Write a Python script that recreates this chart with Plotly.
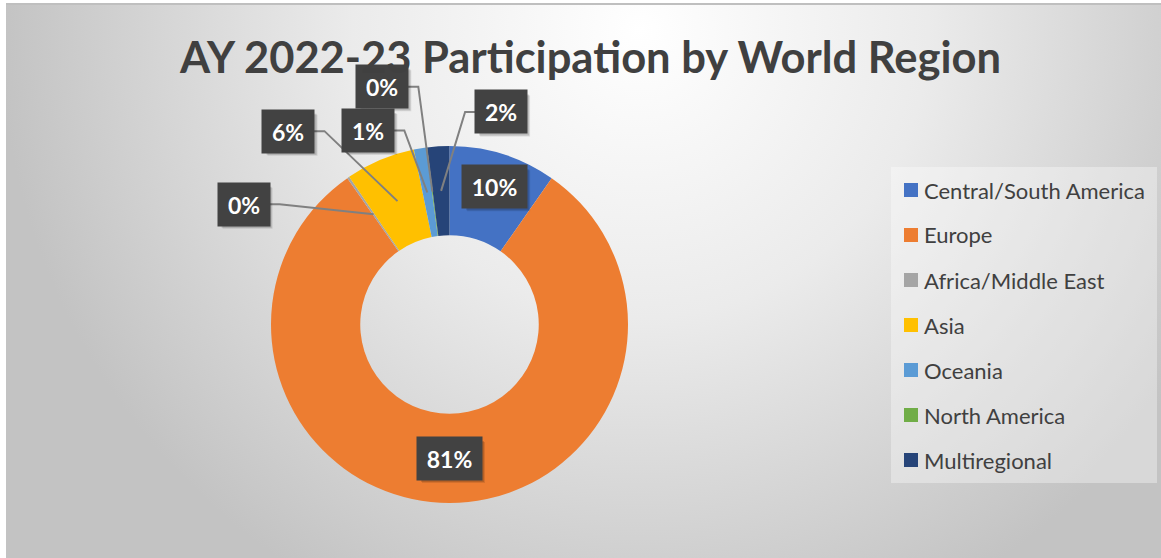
import base64
import math
import plotly.graph_objects as go

# ---------------- data ----------------
regions = ["Central/South America", "Europe", "Africa/Middle East", "Asia",
           "Oceania", "North America", "Multiregional"]
shares = [9.7, 80.6, 0.2, 6.3, 1.1, 0.1, 2.0]
colors = ["#4472C4", "#ED7D31", "#A5A5A5", "#FFC000", "#5B9BD5", "#70AD47", "#264478"]
title_text = "AY 2022-23 Participation by World Region"

# ---------------- layout constants (pixels) ----------------
W, H = 1161, 558
CX, CY, R = 449.5, 324.5, 178.5
HOLE = 0.5
LABEL_R = 0.75  # fraction of outer radius where labels point / sit
# (dx, dy) pixel offset of each label box from its anchor; inside = no leader line
label_offsets = [(5, -10), (0, 0), (-130, -10), (-109, -70), (-59, -62), (-50, -105), (60, -79)]
label_inside = [True, True, False, False, False, False, False]

FONT = "Lato"
DARK = "#404040"


def px(x):
    return x / W


def py(y):
    return 1 - y / H


# background gradient as an SVG image
bg_x0, bg_y0 = 6, 5
bw, bh = W - bg_x0, H - bg_y0
svg = (
    f'<svg xmlns="http://www.w3.org/2000/svg" width="{bw}" height="{bh}" viewBox="0 0 {bw} {bh}">'
    f'<defs><radialGradient id="g" gradientUnits="userSpaceOnUse" cx="{640 - bg_x0}" cy="{30 - bg_y0}" r="640">'
    '<stop offset="0" stop-color="#ffffff"/>'
    '<stop offset="0.45" stop-color="#ebebeb"/>'
    '<stop offset="1" stop-color="#c3c3c3"/>'
    '</radialGradient></defs>'
    f'<rect x="0" y="0" width="{bw}" height="{bh}" fill="url(#g)"/></svg>'
)
svg_uri = "data:image/svg+xml;base64," + base64.b64encode(svg.encode()).decode()

fig = go.Figure()
fig.add_trace(go.Pie(
    labels=regions,
    values=shares,
    marker=dict(colors=colors, line=dict(width=0)),
    hole=HOLE,
    sort=False,
    direction="clockwise",
    rotation=0,
    textinfo="none",
    showlegend=False,
    domain=dict(x=[px(CX - R), px(CX + R)], y=[py(CY + R), py(CY - R)]),
))

shapes = []
annotations = []

# top frame line
shapes.append(dict(type="line", xref="paper", yref="paper",
                   x0=px(bg_x0), x1=1, y0=py(4), y1=py(4),
                   line=dict(color="#bfbfbf", width=2)))

# data labels
total = sum(shares)
cum = 0.0
for i, v in enumerate(shares):
    mid = (cum + v / 2) / total
    cum += v
    ang = 2 * math.pi * mid
    tx = CX + LABEL_R * R * math.sin(ang)
    ty = CY - LABEL_R * R * math.cos(ang)
    dx, dy = label_offsets[i]
    bx, by = tx + dx, ty + dy
    txt = f"{round(v / total * 100)}%"
    bwid = 63 if len(txt) > 2 else 50
    bhei = 41
    if not label_inside[i]:
        # elbow leader line from box side to anchor point
        side = 1 if tx > bx else -1
        sx = bx + side * bwid / 2
        ex = sx + side * 11
        path = f"M {px(sx)},{py(by)} L {px(ex)},{py(by)} L {px(tx)},{py(ty)}"
        shapes.append(dict(type="path", xref="paper", yref="paper", path=path,
                           line=dict(color="#808080", width=2)))
    # soft drop shadow behind the label box
    for k, a in ((4, 0.10), (3, 0.14)):
        shapes.append(dict(type="rect", xref="paper", yref="paper",
                           x0=px(bx - bwid / 2 + k), x1=px(bx + bwid / 2 + k),
                           y0=py(by + bhei / 2 + k), y1=py(by - bhei / 2 + k),
                           fillcolor=f"rgba(0,0,0,{a})", line=dict(width=0), layer="above"))
    annotations.append(dict(x=px(bx), y=py(by), xref="paper", yref="paper",
                            text=f"<b>{txt}</b>", showarrow=False,
                            xanchor="center", yanchor="middle",
                            width=bwid, height=bhei, bgcolor="#424242",
                            font=dict(family=FONT, size=23, color="#ffffff")))

# manual legend
LEG_X0, LEG_X1, LEG_Y0, LEG_Y1 = 891, 1157, 167, 483
shapes.append(dict(type="rect", xref="paper", yref="paper",
                   x0=px(LEG_X0), x1=px(LEG_X1), y0=py(LEG_Y1), y1=py(LEG_Y0),
                   fillcolor="rgba(255,255,255,0.35)", line=dict(width=0), layer="below"))
for i, (name, col) in enumerate(zip(regions, colors)):
    yc = 190 + 45 * i
    shapes.append(dict(type="rect", xref="paper", yref="paper",
                       x0=px(904), x1=px(918), y0=py(yc + 7), y1=py(yc - 7),
                       fillcolor=col, line=dict(width=0)))
    annotations.append(dict(x=px(922), y=py(yc), xref="paper", yref="paper",
                            text=name, showarrow=False, xanchor="left", yanchor="middle",
                            font=dict(family=FONT, size=22, color=DARK)))

# title
annotations.append(dict(x=px(590), y=py(56), xref="paper", yref="paper",
                        text=f"<b>{title_text}</b>", showarrow=False,
                        xanchor="center", yanchor="middle",
                        font=dict(family=FONT, size=43.5, color=DARK)))

fig.update_layout(
    width=W, height=H,
    margin=dict(l=0, r=0, t=0, b=0),
    paper_bgcolor="#ffffff",
    plot_bgcolor="rgba(0,0,0,0)",
    shapes=shapes,
    annotations=annotations,
    images=[dict(source=svg_uri, xref="paper", yref="paper",
                 x=px(bg_x0), y=py(bg_y0), sizex=bw / W, sizey=bh / H,
                 xanchor="left", yanchor="top", sizing="stretch", layer="below")],
)

fig.write_html("out.html", config={"displayModeBar": False},
               post_script="document.body.style.margin='0';document.body.style.overflow='hidden';")
